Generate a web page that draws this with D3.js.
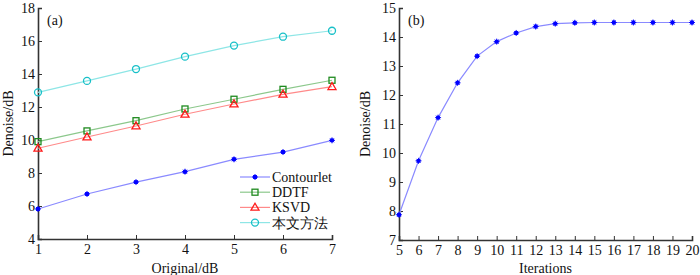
<!DOCTYPE html>
<html><head><meta charset="utf-8">
<script src="https://cdn.jsdelivr.net/npm/d3@7"></script>
<style>
body{margin:0;background:#fff;}
svg{display:block;}
svg text{font-family:"Liberation Serif","Times New Roman",serif;}
</style></head>
<body>
<svg id="c" width="700" height="275"></svg>
<script>
const originalDB = [1,2,3,4,5,6,7];
const contourlet = [5.82,6.73,7.45,8.08,8.83,9.27,9.98];
const ddtf = [9.90,10.55,11.17,11.88,12.47,13.07,13.62];
const ksvd = [9.50,10.18,10.85,11.56,12.18,12.77,13.23];
const proposed = [12.89,13.58,14.30,15.05,15.72,16.26,16.62];
const seriesNames = ["Contourlet","DDTF","KSVD","本文方法"];
const leftYTicks = [4,6,8,10,12,14,16,18];

const iterations = [5,6,7,8,9,10,11,12,13,14,15,16,17,18,19,20];
const iterDenoise = [7.87,9.73,11.22,12.42,13.34,13.84,14.14,14.36,14.46,14.49,14.5,14.5,14.5,14.5,14.5,14.5];
const rightYTicks = [7,8,9,10,11,12,13,14,15];

const svg = d3.select("#c");
const axisColor = "#333";
const serif = '"Liberation Serif","Times New Roman",serif';

function drawAxes(g, x, y, xTicks, yTicks, xTitle, yTitle, panel, yTitleX){
  const xa = g.append("g").attr("transform",`translate(0,${y.range()[0]})`)
    .call(d3.axisBottom(x).tickValues(xTicks).tickSize(-4).tickPadding(4).tickFormat(d3.format("d")));
  const ya = g.append("g").attr("transform",`translate(${x.range()[0]},0)`)
    .call(d3.axisLeft(y).tickValues(yTicks).tickSize(-4).tickPadding(3).tickFormat(d3.format("d")));
  [xa,ya].forEach(a=>{
    a.attr("font-family",serif).attr("font-size",14);
    a.select(".domain").attr("stroke",axisColor).attr("stroke-width",1.6);
    a.selectAll(".tick line").attr("stroke",axisColor).attr("stroke-width",1);
    a.selectAll("text").attr("fill","#111").attr("font-family",serif).attr("font-size",14);
  });
  xa.selectAll("text").attr("dy","0.8em");
  const xm = (x.range()[0]+x.range()[1])/2;
  g.append("text").attr("x",xm).attr("y",273).attr("text-anchor","middle")
    .attr("font-size",14).attr("font-family",serif).attr("fill","#111").text(xTitle);
  const ym = (y.range()[0]+y.range()[1])/2;
  g.append("text").attr("transform",`translate(${yTitleX},${ym}) rotate(-90)`)
    .attr("text-anchor","middle").attr("font-size",14).attr("font-family",serif).attr("fill","#111").text(yTitle);
  g.append("text").attr("x",x.range()[0]+9).attr("y",25).attr("font-size",14).attr("font-family",serif).attr("fill","#111").text(panel);
}

function marker(g, type, cx, cy, color){
  if(type==="star"){
    const m = g.append("g").attr("transform",`translate(${cx},${cy})`);
    m.append("circle").attr("r",2.2).attr("fill",color);
    [0,45,90,135].forEach(a=>{
      const r = a%90===0 ? 3 : 2.8, t = a*Math.PI/180;
      m.append("line").attr("x1",-r*Math.cos(t)).attr("y1",-r*Math.sin(t))
        .attr("x2",r*Math.cos(t)).attr("y2",r*Math.sin(t)).attr("stroke",color).attr("stroke-width",0.9);
    });
  } else if(type==="square"){
    g.append("rect").attr("x",cx-3).attr("y",cy-3).attr("width",6).attr("height",6).attr("fill","none").attr("stroke",color).attr("stroke-width",1.3);
  } else if(type==="triangle"){
    g.append("path").attr("d",d3.symbol(d3.symbolTriangle,28)()).attr("transform",`translate(${cx},${cy+0.5})`).attr("fill","none").attr("stroke",color).attr("stroke-width",1.3);
  } else {
    g.append("circle").attr("cx",cx).attr("cy",cy).attr("r",3.5).attr("fill","none").attr("stroke",color).attr("stroke-width",1.3);
  }
}

// Left panel
const gL = svg.append("g");
const xL = d3.scaleLinear().domain([1,7]).range([38,332]);
const yL = d3.scaleLinear().domain([4,18]).range([239,8]);
drawAxes(gL, xL, yL, originalDB, leftYTicks, "Original/dB", "Denoise/dB", "(a)", 13);

const series = [
  {name:seriesNames[0], vals:contourlet, line:"#8a8aff", mk:"#0000ff", type:"star"},
  {name:seriesNames[1], vals:ddtf, line:"#8cc88c", mk:"#1f8a1f", type:"square"},
  {name:seriesNames[2], vals:ksvd, line:"#ff8a8a", mk:"#ff1a1a", type:"triangle"},
  {name:seriesNames[3], vals:proposed, line:"#8ee6e6", mk:"#18c0c8", type:"circle"}
];
const lineL = d3.line().x((d,i)=>xL(originalDB[i])).y(d=>yL(d));
series.forEach(s=>{
  gL.append("path").attr("d",lineL(s.vals)).attr("fill","none").attr("stroke",s.line).attr("stroke-width",1.2);
  s.vals.forEach((v,i)=>marker(gL,s.type,xL(originalDB[i]),yL(v),s.mk));
});
// legend
const leg = gL.append("g");
series.forEach((s,i)=>{
  const ly = 177 + i*15.2;
  leg.append("line").attr("x1",240).attr("x2",270).attr("y1",ly).attr("y2",ly).attr("stroke",s.line).attr("stroke-width",1.2);
  marker(leg,s.type,255,ly,s.mk);
  leg.append("text").attr("x",272).attr("y",ly+5).attr("fill","#111")
    .attr("font-size", i===3 ? 13.5 : 14)
    .attr("font-family", i===3 ? '"Noto Sans CJK SC",sans-serif' : serif).text(s.name);
});

// Right panel
const gR = svg.append("g");
const xR = d3.scaleLinear().domain([5,20]).range([399,692]);
const yR = d3.scaleLinear().domain([7,15]).range([240,8]);
drawAxes(gR, xR, yR, iterations, rightYTicks, "Iterations", "Denoise/dB", "(b)", 370);
const lineR = d3.line().x((d,i)=>xR(iterations[i])).y(d=>yR(d));
gR.append("path").attr("d",lineR(iterDenoise)).attr("fill","none").attr("stroke","#8a8aff").attr("stroke-width",1.2);
iterDenoise.forEach((v,i)=>marker(gR,"star",xR(iterations[i]),yR(v),"#0000ff"));
</script>
</body></html>
